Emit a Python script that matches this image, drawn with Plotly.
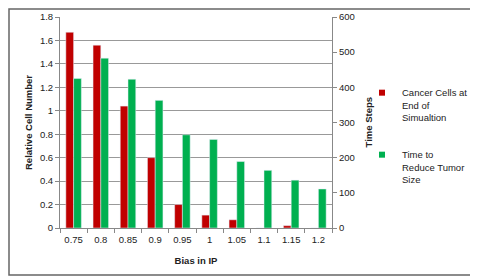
import plotly.graph_objects as go

categories = ["0.75", "0.8", "0.85", "0.9", "0.95", "1", "1.05", "1.1", "1.15", "1.2"]
cancer_cells = [1.67, 1.56, 1.04, 0.60, 0.20, 0.11, 0.07, 0.0, 0.02, 0.0]
time_steps = [425, 483, 423, 363, 265, 252, 189, 164, 136, 111]
series_names = ["Cancer Cells at<br>End of<br>Simualtion", "Time to<br>Reduce Tumor<br>Size"]
series_colors = ["#C00000", "#00B050"]

# figure is drawn inside the page body (8px margin), so sizes are the window minus 8
W, H = 470, 270
L, R, T, B = 52, 146, 9, 50
pw, ph = W - L - R, H - T - B

def px(x):
    return (x - L) / pw

def py(y):
    return (H - B - y) / ph

font = dict(family="Liberation Sans, Arial, sans-serif", size=9.5, color="#222")

fig = go.Figure()
fig.add_trace(go.Bar(
    x=categories, y=cancer_cells, name=series_names[0], showlegend=False,
    marker_color=series_colors[0], width=0.285, offset=-0.285, yaxis="y",
))
fig.add_trace(go.Bar(
    x=categories, y=time_steps, name=series_names[1], showlegend=False,
    marker_color=series_colors[1], width=0.285, offset=0.0, yaxis="y2",
))
# legend entries
for i, lg in enumerate(["legend", "legend2"]):
    fig.add_trace(go.Scatter(
        x=[None], y=[None], mode="markers", name=series_names[i], legend=lg,
        marker=dict(symbol="square", size=6, color=series_colors[i]),
    ))

legend_common = dict(font=dict(family=font["family"], size=9.5, color="#222"),
                     bgcolor="rgba(0,0,0,0)", itemwidth=30, xanchor="left", yanchor="top",
                     itemsizing="trace", valign="top", xref="container", yref="container")

fig.update_layout(
    width=W, height=H,
    margin=dict(l=L, r=R, t=T, b=B, autoexpand=False),
    paper_bgcolor="white", plot_bgcolor="white",
    font=font,
    xaxis=dict(type="category", tickson="boundaries", ticks="outside", ticklen=4,
               tickcolor="#888", showline=True, linecolor="#888", tickangle=0,
               ticklabelstandoff=3,
               title=dict(text="<b>Bias in IP</b>", font=dict(size=9.5), standoff=12),
               tickfont=dict(size=9.5), automargin=False),
    yaxis=dict(range=[0, 1.8], dtick=0.2, ticks="outside", ticklen=4, tickcolor="#888",
               showline=True, linecolor="#888", showgrid=True, gridcolor="#999", gridwidth=1,
               zeroline=False, automargin=True,
               title=dict(text="<b>Relative Cell Number</b>", font=dict(size=9.5), standoff=5),
               tickfont=dict(size=9.5)),
    yaxis2=dict(range=[0, 600], dtick=100, overlaying="y", side="right", ticks="outside",
                ticklen=4, tickcolor="#888", showline=True, linecolor="#888",
                showgrid=False, zeroline=False, automargin=False,
                tickfont=dict(size=9.5)),
    legend=dict(x=354 / W, y=1 - 72 / H, **legend_common),
    legend2=dict(x=354 / W, y=1 - 134 / H, **legend_common),
    annotations=[dict(text="<b>Time Steps</b>", textangle=-90, xref="paper", yref="paper",
                      x=px(360), y=0.5, showarrow=False, xanchor="center", yanchor="middle",
                      font=dict(size=9.5, color="#222"))],
    shapes=[dict(type="rect", xref="paper", yref="paper",
                 x0=px(1), x1=px(467), y0=py(267), y1=py(1),
                 line=dict(color="#666", width=1.5), layer="below")],
)

fig.write_html("out.html")
